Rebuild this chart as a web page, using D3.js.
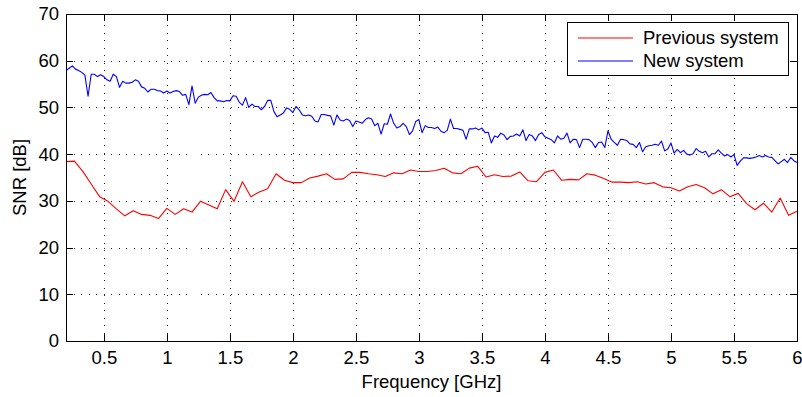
<!DOCTYPE html>
<html>
<head>
<meta charset="utf-8">
<script src="https://cdn.jsdelivr.net/npm/d3@7"></script>
<style>
  html, body { margin: 0; padding: 0; background: #fff; }
  svg { display: block; font-family: "Liberation Sans", Arial, Helvetica, sans-serif; }
</style>
</head>
<body>
<svg id="chart" width="802" height="397"></svg>
<script>
// SNR measured across the band, old vs. new receiver chain
const freqRange = [0.2, 6];           // GHz
const snrRange = [0, 70];             // dB
const xTickValues = [0.5, 1, 1.5, 2, 2.5, 3, 3.5, 4, 4.5, 5, 5.5, 6];
const xTickLabels = ["0.5", "1", "1.5", "2", "2.5", "3", "3.5", "4", "4.5", "5", "5.5", "6"];
const yTickValues = [0, 10, 20, 30, 40, 50, 60, 70];
const yTickLabels = ["0", "10", "20", "30", "40", "50", "60", "70"];

const seriesNames = ["Previous system", "New system"];
const seriesColors = ["#ff0000", "#0000ff"];

// previous system: coarse sweep, evenly spaced over 0.2–6 GHz
const previousSNR = [
  38.4, 38.5, 36.3, 33.6, 30.9, 29.9, 28.3, 26.8, 27.9, 27.1,
  26.9, 26.2, 28.4, 27.1, 28.3, 27.6, 29.9, 29.1, 28.3, 32.4,
  29.9, 34.1, 30.9, 31.9, 32.6, 35.8, 34.4, 33.9, 33.9, 34.9,
  35.3, 35.8, 34.6, 34.7, 36.1, 36.1, 35.8, 35.6, 35.2, 36.0,
  35.8, 36.6, 36.3, 36.3, 36.5, 37.0, 36.0, 35.8, 37.0, 37.4,
  35.1, 35.6, 35.2, 35.3, 36.2, 34.3, 34.1, 36.1, 36.6, 34.4,
  34.6, 34.5, 35.8, 35.5, 34.8, 34.0, 34.0, 33.9, 34.1, 33.6,
  33.9, 33.0, 32.8, 32.1, 33.0, 33.5, 32.8, 31.5, 32.4, 30.9,
  31.6, 29.4, 28.1, 29.5, 27.6, 30.6, 26.9, 27.8
];

// new system: fine sweep, evenly spaced over 0.2–6 GHz
const newSNR = [
  57.9, 58.4, 58.9, 58.2, 57.9, 57.5, 56.9, 52.4, 57.1, 57.1,
  56.6, 57.0, 56.6, 55.9, 55.6, 57.1, 56.6, 54.3, 55.6, 55.2,
  55.2, 55.4, 55.9, 55.6, 54.4, 54.1, 53.3, 53.9, 53.9, 53.6,
  53.5, 53.1, 53.5, 53.1, 53.4, 53.6, 53.4, 52.6, 52.8, 50.6,
  54.6, 50.9, 52.2, 52.6, 52.8, 52.7, 53.2, 52.1, 51.4, 51.4,
  51.2, 51.5, 51.4, 52.5, 52.4, 51.1, 50.5, 52.1, 50.0, 50.7,
  50.2, 50.2, 49.5, 50.2, 51.5, 51.5, 49.1, 48.0, 48.4, 48.8,
  49.9, 49.6, 48.9, 50.2, 49.5, 48.4, 48.2, 48.4, 48.1, 47.1,
  46.9, 48.5, 48.5, 48.3, 48.2, 46.2, 48.4, 47.3, 47.1, 47.5,
  47.2, 45.9, 47.1, 46.9, 46.6, 47.4, 47.8, 47.5, 46.1, 46.6,
  44.3, 46.5, 46.4, 48.6, 46.6, 45.6, 45.9, 46.6, 45.9, 44.2,
  45.0, 47.0, 47.4, 44.6, 46.1, 45.7, 45.7, 45.5, 45.8, 44.9,
  44.6, 45.1, 47.5, 45.5, 45.5, 45.3, 45.1, 43.2, 45.4, 45.4,
  45.6, 45.2, 45.6, 44.6, 44.7, 42.4, 43.9, 43.6, 44.5, 44.1,
  43.1, 43.8, 43.9, 44.3, 43.9, 45.2, 42.9, 44.2, 43.9, 42.9,
  44.2, 44.6, 43.7, 43.4, 43.1, 42.4, 43.9, 43.2, 43.4, 44.5,
  42.4, 43.2, 43.1, 41.4, 43.2, 43.2, 43.1, 42.5, 41.4, 42.5,
  42.6, 41.4, 45.0, 43.2, 42.5, 41.9, 43.2, 43.1, 42.9, 42.2,
  42.1, 41.4, 42.5, 40.5, 41.6, 41.8, 41.9, 42.1, 41.9, 42.8,
  40.7, 41.1, 42.4, 40.2, 41.0, 40.3, 40.8, 40.0, 39.8, 40.1,
  41.2, 40.6, 40.3, 40.6, 39.4, 40.1, 40.1, 40.9, 40.2, 39.6,
  39.9, 39.4, 39.9, 37.6, 38.5, 39.2, 39.2, 39.1, 39.2, 39.4,
  39.7, 39.4, 39.7, 39.4, 39.3, 38.6, 37.9, 38.4, 38.9, 38.2,
  39.3, 38.6, 38.2
];

// frequency grid for an evenly spaced sweep across freqRange
function sweep(values) {
  const n = values.length - 1;
  return values.map((v, i) => ({
    f: freqRange[0] + (freqRange[1] - freqRange[0]) * i / n,
    snr: v
  }));
}
const series = [sweep(previousSNR), sweep(newSNR)];

const svg = d3.select("#chart");
const plot = { left: 66, right: 797, top: 14, bottom: 341 };
const w = plot.right - plot.left;
const h = plot.bottom - plot.top;
const fontSize = 18.5;
const tickLen = 7;

const x = d3.scaleLinear().domain(freqRange).range([plot.left, plot.right]);
const y = d3.scaleLinear().domain(snrRange).range([plot.bottom, plot.top]);

// dotted grid
const grid = svg.append("g").attr("class", "grid");
grid.append("g")
  .attr("transform", `translate(0,${plot.bottom})`)
  .call(d3.axisBottom(x).tickValues(xTickValues.filter(v => v < freqRange[1])).tickSize(-h).tickFormat(""))
  .call(g => g.select(".domain").remove());
grid.append("g")
  .attr("transform", `translate(${plot.left},0)`)
  .call(d3.axisLeft(y).tickValues(yTickValues.filter(v => v > snrRange[0] && v < snrRange[1])).tickSize(-w).tickFormat(""))
  .call(g => g.select(".domain").remove());
grid.selectAll("line")
  .attr("stroke", "#222")
  .attr("stroke-width", 1)
  .attr("stroke-dasharray", "1,6.5")
  .attr("shape-rendering", "crispEdges");

// data lines
const line = d3.line().x(d => x(d.f)).y(d => y(d.snr));
svg.append("g").attr("class", "lines")
  .selectAll("path")
  .data(series)
  .join("path")
  .attr("d", line)
  .attr("fill", "none")
  .attr("stroke", (d, i) => seriesColors[i])
  .attr("stroke-width", 1.1)
  .attr("stroke-linejoin", "round");

// axes with inward ticks on all four sides
const xLabel = d => xTickLabels[xTickValues.indexOf(d)];
const yLabel = d => yTickLabels[yTickValues.indexOf(d)];

const axB = svg.append("g").attr("transform", `translate(0,${plot.bottom})`)
  .call(d3.axisBottom(x).tickValues(xTickValues).tickSizeInner(-tickLen).tickSizeOuter(0).tickPadding(10).tickFormat(xLabel));
const axT = svg.append("g").attr("transform", `translate(0,${plot.top})`)
  .call(d3.axisTop(x).tickValues(xTickValues).tickSizeInner(-tickLen).tickSizeOuter(0).tickFormat(""));
const axL = svg.append("g").attr("transform", `translate(${plot.left},0)`)
  .call(d3.axisLeft(y).tickValues(yTickValues).tickSizeInner(-tickLen).tickSizeOuter(0).tickPadding(7).tickFormat(yLabel));
const axR = svg.append("g").attr("transform", `translate(${plot.right},0)`)
  .call(d3.axisRight(y).tickValues(yTickValues).tickSizeInner(-tickLen).tickSizeOuter(0).tickFormat(""));

[axB, axT, axL, axR].forEach(a => {
  a.selectAll(".domain").attr("stroke", "#000").attr("stroke-width", 1).attr("shape-rendering", "crispEdges");
  a.selectAll(".tick line").attr("stroke", "#000").attr("stroke-width", 1).attr("shape-rendering", "crispEdges");
  a.selectAll(".tick text").attr("fill", "#000").attr("font-size", fontSize).attr("font-family", null);
});

// axis titles
svg.append("text")
  .attr("x", (plot.left + plot.right) / 2)
  .attr("y", 388)
  .attr("text-anchor", "middle")
  .attr("font-size", fontSize)
  .text("Frequency [GHz]");

svg.append("text")
  .attr("transform", `translate(26,${(plot.top + plot.bottom) / 2}) rotate(-90)`)
  .attr("text-anchor", "middle")
  .attr("font-size", fontSize)
  .text("SNR [dB]");

// legend
const legend = svg.append("g").attr("transform", "translate(567,22)");
legend.append("rect")
  .attr("width", 221).attr("height", 53)
  .attr("fill", "#fff").attr("stroke", "#000").attr("stroke-width", 1)
  .attr("shape-rendering", "crispEdges");
seriesNames.forEach((name, i) => {
  const ly = 16 + i * 23;
  legend.append("line")
    .attr("x1", 11).attr("x2", 66).attr("y1", ly).attr("y2", ly)
    .attr("stroke", seriesColors[i]).attr("stroke-width", 1.1);
  legend.append("text")
    .attr("x", 76).attr("y", ly).attr("dy", "0.35em")
    .attr("font-size", fontSize)
    .text(name);
});
</script>
</body>
</html>
